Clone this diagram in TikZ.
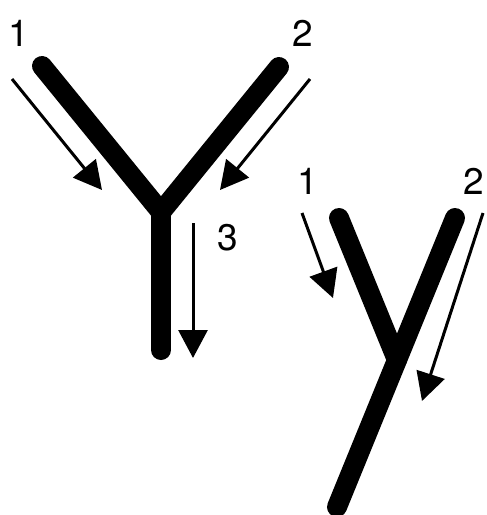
\documentclass[tikz,border=0pt]{standalone}
\usepackage{fontspec}
\setmainfont{TeX Gyre Heros}
\usetikzlibrary{arrows.meta}
\begin{document}
\begin{tikzpicture}[x=1pt,y=-1pt,
  arm/.style={line width=20pt,line cap=round,line join=round},
  flow/.style={line width=3pt,-{Triangle[length=28pt,width=29pt]}},
  lab/.style={font=\fontsize{37}{37}\selectfont,inner sep=0pt}]
\useasboundingbox (0,0) rectangle (487,515);
% big Y
\coordinate (yl) at (42,66);
\coordinate (yr) at (279,67);
\coordinate (yj) at (161,212);
\coordinate (yb) at (161,350);
\draw[arm] (yl) -- (yj) -- (yr);
\draw[arm] (yj) -- (yb);
\node[lab] (n1) at (19,33) {1};
\node[lab] (n2) at (303,33) {2};
\node[lab] (n3) at (228,238) {3};
\coordinate (a1s) at (12,79);
\coordinate (a1e) at (102,190);
\coordinate (a2s) at (310,79);
\coordinate (a2e) at (220,190);
\coordinate (a3s) at (193,223);
\coordinate (a3e) at (193,358);
\draw[flow] (a1s) -- (a1e);
\draw[flow] (a2s) -- (a2e);
\draw[flow] (a3s) -- (a3e);
% small y
\coordinate (sl) at (339,218);
\coordinate (sj) at (397,360);
\coordinate (st) at (455,218);
\coordinate (sb) at (337,507);
\draw[arm] (sl) -- (sj);
\draw[arm] (st) -- (sb);
\node[lab] (m1) at (308,181) {1};
\node[lab] (m2) at (474,181) {2};
\coordinate (b1s) at (302,213);
\coordinate (b1e) at (333,298);
\coordinate (b2s) at (483,213);
\coordinate (b2e) at (422,401);
\draw[flow] (b1s) -- (b1e);
\draw[flow] (b2s) -- (b2e);
\end{tikzpicture}
\end{document}
